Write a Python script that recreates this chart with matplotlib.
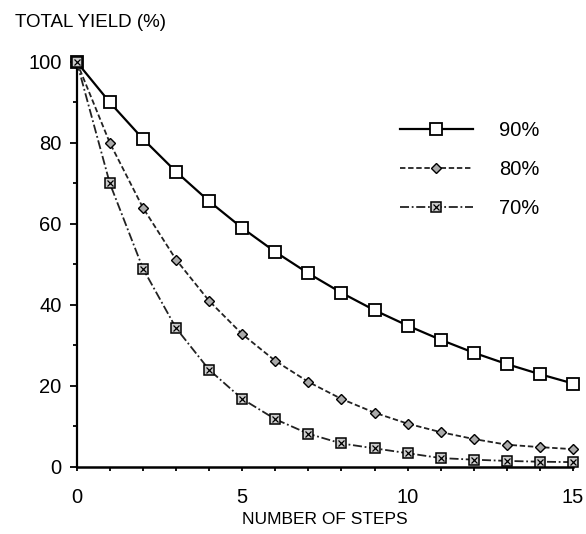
import numpy as np
import matplotlib
matplotlib.use("Agg")
import matplotlib.pyplot as plt
from matplotlib.ticker import MultipleLocator
from matplotlib.legend_handler import HandlerTuple

plt.rcParams['font.family'] = ['Liberation Sans', 'DejaVu Sans']

# values
steps = list(range(0, 16))
yield_90 = [100, 90, 81, 72.9, 65.6, 59.0, 53.1, 47.8, 43.0, 38.7, 34.9, 31.4, 28.2, 25.4, 22.9, 20.6]
yield_80 = [100, 80, 64, 51.2, 41.0, 32.8, 26.2, 21.0, 16.8, 13.4, 10.7, 8.6, 6.9, 5.5, 4.9, 4.4]
yield_70 = [100, 70, 49, 34.3, 24.0, 16.8, 11.8, 8.2, 5.8, 4.6, 3.4, 2.2, 1.8, 1.5, 1.3, 1.2]
labels = ['90%', '80%', '70%']

fig = plt.figure(figsize=(5.86, 5.34), dpi=100)
ax = fig.add_axes([0.131, 0.1255, 0.847, 0.7585])

l90, = ax.plot(steps, yield_90, color='black', lw=1.6, ls='-', marker='s',
               ms=8.5, mfc='white', mec='black', mew=1.3, clip_on=False, zorder=3)
l80, = ax.plot(steps, yield_80, color='#222222', lw=1.3, ls=(0, (3, 1.5)), marker='D',
               ms=5, mfc='#aaaaaa', mec='black', mew=1.0, clip_on=False, zorder=3)
l70, = ax.plot(steps, yield_70, color='#222222', lw=1.3, ls=(0, (5, 1.5, 1, 1.5)), marker='s',
               ms=7, mfc='#cccccc', mec='black', mew=1.1, clip_on=False, zorder=3)
x70, = ax.plot(steps, yield_70, ls='none', marker='x', ms=5, mec='black', mew=0.9,
               clip_on=False, zorder=4)

ax.set_xlim(0, 15)
ax.set_ylim(0, 100)
ax.spines['top'].set_visible(False)
ax.spines['right'].set_visible(False)
ax.spines['left'].set_linewidth(1.6)
ax.spines['bottom'].set_linewidth(1.8)

ax.xaxis.set_major_locator(MultipleLocator(5))
ax.xaxis.set_minor_locator(MultipleLocator(1))
ax.yaxis.set_major_locator(MultipleLocator(20))
ax.yaxis.set_minor_locator(MultipleLocator(10))
ax.tick_params(which='both', direction='out', width=1.3)
ax.tick_params(which='major', length=5, labelsize=14.5, pad=6)
ax.tick_params(which='minor', length=3)
ax.tick_params(axis='x', which='major', length=3, pad=12)

ax.set_xlabel('NUMBER OF STEPS', fontsize=12.5, labelpad=4)
fig.text(0.025, 0.957, 'TOTAL YIELD (%)', fontsize=13.5, ha='left', va='center')

ax.legend([l90, l80, (l70, x70)], labels, loc='upper left',
          bbox_to_anchor=(0.615, 0.9), frameon=False, fontsize=14.5,
          handlelength=3.6, handletextpad=1.3, labelspacing=1.0, numpoints=1,
          handler_map={tuple: HandlerTuple(ndivide=1)})

fig.savefig('out.png', dpi=100)
